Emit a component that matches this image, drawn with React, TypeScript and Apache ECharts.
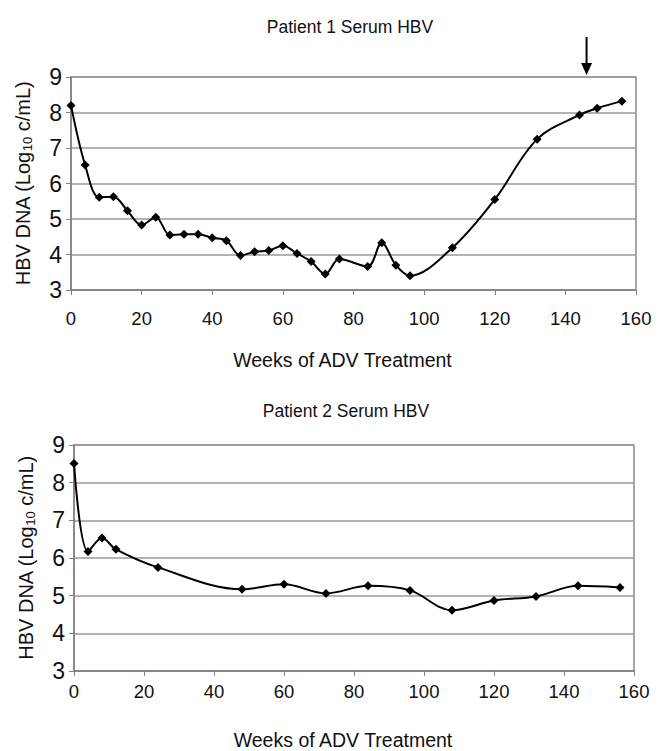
import React, { useEffect, useRef } from "react";
import * as echarts from "echarts";

const xTicks = [0, 20, 40, 60, 80, 100, 120, 140, 160];
const yTicks = [3, 4, 5, 6, 7, 8, 9];

const p1Weeks = [0, 4, 8, 12, 16, 20, 24, 28, 32, 36, 40, 44, 48, 52, 56, 60, 64, 68, 72, 76, 84, 88, 92, 96, 108, 120, 132, 144, 149, 156];
const p1Values = [8.2, 6.52, 5.61, 5.63, 5.23, 4.83, 5.05, 4.55, 4.57, 4.57, 4.47, 4.39, 3.97, 4.08, 4.11, 4.25, 4.03, 3.8, 3.45, 3.87, 3.66, 4.33, 3.7, 3.4, 4.19, 5.55, 7.25, 7.93, 8.12, 8.32];

const p2Weeks = [0, 4, 8, 12, 24, 48, 60, 72, 84, 96, 108, 120, 132, 144, 156];
const p2Values = [8.51, 6.17, 6.53, 6.23, 5.75, 5.17, 5.3, 5.06, 5.26, 5.14, 4.61, 4.87, 4.98, 5.26, 5.22];

const arrowWeek = [146];

const titles = ["Patient 1 Serum HBV", "Patient 2 Serum HBV"];
const xName = "Weeks of ADV Treatment";

const FONT = "Liberation Sans, Arial, Helvetica, sans-serif";

export default function App() {
  const ref = useRef<HTMLDivElement>(null);
  useEffect(() => {
    if (!ref.current) return;
    const chart = echarts.init(ref.current, null, { renderer: "svg" });
    const gridDefs = [
      { left: 71, top: 77, width: 565, height: 213, labelMargin: 19, nameGap: 60 },
      { left: 74, top: 445, width: 560, height: 226, labelMargin: 11, nameGap: 59 },
    ];
    const mkX = (i: number) => ({
      type: "value",
      gridIndex: i,
      min: xTicks[0],
      max: xTicks[xTicks.length - 1],
      interval: xTicks[1] - xTicks[0],
      name: xName,
      nameLocation: "middle",
      nameGap: gridDefs[i].nameGap,
      nameTextStyle: { fontFamily: FONT, fontSize: 19.5, color: "#111", padding: [0, 22, 0, 0] },
      axisLine: { show: true, lineStyle: { color: "#808080", width: 1.5 } },
      axisTick: { show: true, inside: false, length: 5, lineStyle: { color: "#808080" } },
      axisLabel: { fontFamily: FONT, fontSize: 18.5, color: "#111", margin: gridDefs[i].labelMargin },
      splitLine: { show: false },
    });
    const mkY = (i: number) => ({
      type: "value",
      gridIndex: i,
      min: yTicks[0],
      max: yTicks[yTicks.length - 1],
      interval: yTicks[1] - yTicks[0],
      name: "{a|HBV DNA (Log}{s|10}{a| c/mL)}",
      nameLocation: "middle",
      nameGap: 37,
      nameTextStyle: {
        rich: {
          a: { fontFamily: FONT, fontSize: 20, color: "#111" },
          s: { fontFamily: FONT, fontSize: 13, color: "#111", verticalAlign: "bottom", padding: [10, 0, 0, 0] },
        },
      },
      axisLine: { show: true, lineStyle: { color: "#808080", width: 1.5 } },
      axisTick: { show: true, inside: false, length: 5, lineStyle: { color: "#808080" } },
      axisLabel: { fontFamily: FONT, fontSize: 23, color: "#111", margin: 9 },
      splitLine: { show: true, lineStyle: { color: "#9a9a9a", width: 1.5 } },
    });
    const mkSeries = (i: number, weeks: number[], vals: number[]) => ({
      type: "line",
      xAxisIndex: i,
      yAxisIndex: i,
      data: weeks.map((w, k) => [w, vals[k]]),
      smooth: 0.35,
      symbol: "diamond",
      symbolSize: 9,
      lineStyle: { color: "#000", width: 2 },
      itemStyle: { color: "#000" },
    });
    chart.setOption({
      animation: false,
      backgroundColor: "#fff",
      title: [
        { text: titles[0], left: 345, top: 13, textAlign: "center", textStyle: { fontFamily: FONT, fontSize: 17.5, fontWeight: "normal", color: "#111" } },
        { text: titles[1], left: 341, top: 397, textAlign: "center", textStyle: { fontFamily: FONT, fontSize: 17.5, fontWeight: "normal", color: "#111" } },
      ],
      grid: gridDefs.map((g) => ({
        left: g.left,
        top: g.top,
        width: g.width,
        height: g.height,
        show: true,
        borderColor: "#8a8a8a",
        borderWidth: 1.5,
        backgroundColor: "transparent",
      })),
      xAxis: [mkX(0), mkX(1)],
      yAxis: [mkY(0), mkY(1)],
      series: [mkSeries(0, p1Weeks, p1Values), mkSeries(1, p2Weeks, p2Values)],
    });
    const px = chart.convertToPixel({ gridIndex: 0 }, [arrowWeek[0], yTicks[yTicks.length - 1]]) as number[];
    if (px) {
      const ax = px[0];
      const tipY = px[1] - 2;
      chart.setOption({
        graphic: [
          { type: "line", shape: { x1: ax, y1: tipY - 38, x2: ax, y2: tipY - 8 }, style: { stroke: "#000", lineWidth: 2 } },
          { type: "polygon", shape: { points: [[ax - 5.5, tipY - 12], [ax + 5.5, tipY - 12], [ax, tipY]] }, style: { fill: "#000" } },
        ],
      });
    }
    return () => chart.dispose();
  }, []);
  return <div ref={ref} style={{ position: "fixed", left: 0, top: 0, width: 659, height: 751 }} />;
}
